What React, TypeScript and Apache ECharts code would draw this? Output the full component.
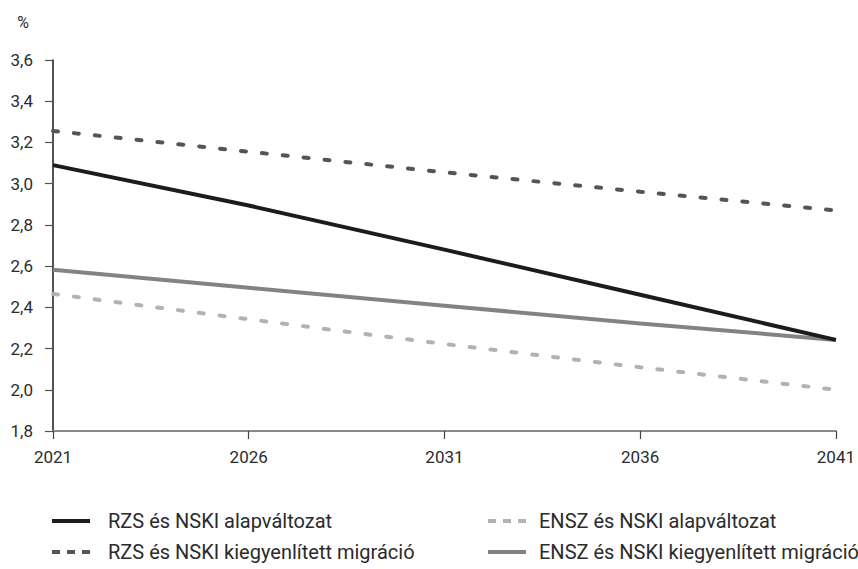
import React, { useEffect, useRef } from "react";
import * as echarts from "echarts";

const years = ["2021", "2026", "2031", "2036", "2041"];
const rzsAlap = [3.09, 2.894, 2.68, 2.461, 2.242];
const rzsKiegy = [3.256, 3.155, 3.055, 2.961, 2.87];
const enszAlap = [2.465, 2.342, 2.222, 2.109, 2.0];
const enszKiegy = [2.582, 2.495, 2.408, 2.322, 2.242];

const seriesNames = [
  "RZS és NSKI alapváltozat",
  "RZS és NSKI kiegyenlített migráció",
  "ENSZ és NSKI alapváltozat",
  "ENSZ és NSKI kiegyenlített migráció",
];

const FONT = "Roboto, 'Noto Sans', 'DejaVu Sans', sans-serif";
const TXT = "#2b2b2b";

function legendFor(name: string, left: number, top: number, padLeft: number, dashed: boolean) {
  return {
    data: [name],
    orient: "horizontal",
    left,
    top,
    padding: 0,
    itemWidth: 38,
    itemHeight: 20,
    itemStyle: { opacity: 0 },
    lineStyle: dashed ? { type: [8, 7], cap: "butt", width: 4 } : { width: 4 },
    textStyle: {
      fontFamily: FONT,
      fontSize: 20,
      lineHeight: 20,
      color: TXT,
      padding: [0, 0, 0, padLeft],
    },
  };
}

export default function App() {
  const ref = useRef<HTMLDivElement>(null);
  useEffect(() => {
    if (!ref.current) return;
    const chart = echarts.init(ref.current, undefined, { renderer: "svg" });
    const dash = [5, 16];
    chart.setOption({
      animation: false,
      backgroundColor: "#ffffff",
      textStyle: { fontFamily: FONT, color: TXT },
      grid: { left: 53, right: 18, top: 60, bottom: 138, containLabel: false },
      legend: [
        legendFor(seriesNames[0], 50, 511, 13, false),
        legendFor(seriesNames[1], 50, 542, 13, true),
        legendFor(seriesNames[2], 486, 511, 8, true),
        legendFor(seriesNames[3], 486, 542, 8, false),
      ],
      xAxis: {
        type: "category",
        data: years,
        boundaryGap: false,
        axisLine: { lineStyle: { color: "#8a8a8a", width: 2 } },
        axisTick: { show: true, length: 8, lineStyle: { color: "#444", width: 1.2 } },
        axisLabel: { fontFamily: FONT, fontSize: 17, color: TXT, margin: 17 },
        splitLine: { show: false },
      },
      yAxis: {
        type: "value",
        min: 1.8,
        max: 3.6,
        interval: 0.2,
        name: "%",
        nameLocation: "end",
        nameGap: 30,
        nameTextStyle: { fontFamily: FONT, fontSize: 16, color: TXT, align: "right", padding: [0, 24, 0, 0] },
        axisLine: { show: true, lineStyle: { color: "#1a1a1a", width: 1.5 } },
        axisTick: { show: true, length: 8, lineStyle: { color: "#555", width: 1.2 } },
        axisLabel: {
          fontFamily: FONT,
          fontSize: 17,
          color: TXT,
          margin: 20,
          formatter: (v: number) => v.toFixed(1).replace(".", ","),
        },
        splitLine: { show: false },
      },
      series: [
        {
          name: seriesNames[0],
          type: "line",
          data: rzsAlap,
          symbol: "none",
          z: 4,
          itemStyle: { color: "#1c1c1c" },
          lineStyle: { color: "#1c1c1c", width: 4 },
        },
        {
          name: seriesNames[1],
          type: "line",
          data: rzsKiegy,
          symbol: "none",
          itemStyle: { color: "#555555" },
          lineStyle: { color: "#555555", width: 4, type: dash, cap: "round" },
        },
        {
          name: seriesNames[2],
          type: "line",
          data: enszAlap,
          symbol: "none",
          itemStyle: { color: "#b2b2b2" },
          lineStyle: { color: "#b2b2b2", width: 4, type: dash, cap: "round" },
        },
        {
          name: seriesNames[3],
          type: "line",
          data: enszKiegy,
          symbol: "none",
          z: 3,
          itemStyle: { color: "#838383" },
          lineStyle: { color: "#838383", width: 4 },
        },
      ],
    });
    return () => chart.dispose();
  }, []);
  return (
    <div
      ref={ref}
      style={{ position: "fixed", left: 0, top: 0, width: 858, height: 569, background: "#fff" }}
    />
  );
}
